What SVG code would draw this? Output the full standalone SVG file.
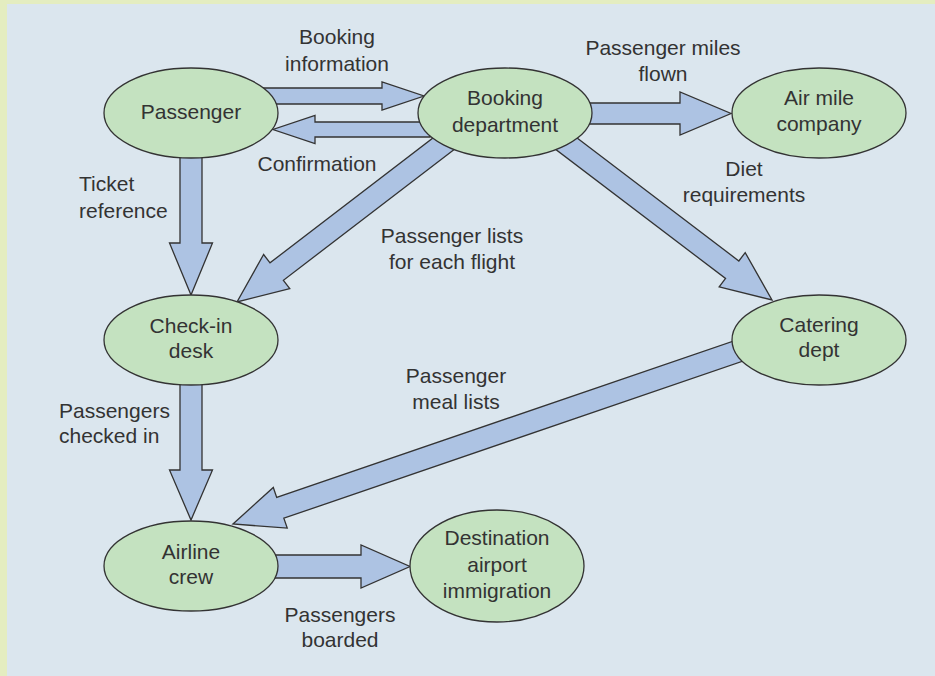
<svg xmlns="http://www.w3.org/2000/svg" width="935" height="676" viewBox="0 0 935 676">
  <style>
    .node ellipse { fill: #c4e2c0; stroke: #333333; stroke-width: 1.3; }
    .flow polygon { fill: #adc3e3; stroke: #333333; stroke-width: 1.3; stroke-linejoin: miter; }
    text { font-family: "Liberation Sans", Arial, sans-serif; font-size: 21px; fill: #333333; }
    .c { text-anchor: middle; }
    .l { text-anchor: start; }
  </style>

  <!-- page background with tinted top and left edges -->
  <rect x="0" y="0" width="935" height="676" fill="#e4edc0"/>
  <rect x="7" y="4" width="928" height="672" fill="#dbe6ee"/>

  <!-- data flows (drawn beneath the nodes) -->
  <g id="connectors" class="flow">
    <!-- Passenger -> Booking department -->
    <polygon transform="translate(260,96)" points="0,-8 122,-8 122,-14 164,0 122,14 122,8 0,8"/>
    <!-- Booking department -> Passenger -->
    <polygon transform="translate(430,129.5) rotate(180)" points="0,-7.5 115,-7.5 115,-14 157,0 115,14 115,7.5 0,7.5"/>
    <!-- Booking department -> Air mile company -->
    <polygon transform="translate(580,113.5)" points="0,-10.5 100,-10.5 100,-21.5 151,0 100,21.5 100,10.5 0,10.5"/>
    <!-- Passenger -> Check-in desk -->
    <polygon transform="translate(191,150) rotate(90)" points="0,-11 93,-11 93,-21.5 145,0 93,21.5 93,11 0,11"/>
    <!-- Check-in desk -> Airline crew -->
    <polygon transform="translate(191,378) rotate(90)" points="0,-11 92,-11 92,-21.5 142,0 92,21.5 92,11 0,11"/>
    <!-- Booking department -> Check-in desk -->
    <polygon transform="translate(455,135) rotate(142.55)" points="0,-11 224.6,-11 224.6,-21.5 274.6,0 224.6,21.5 224.6,11 0,11"/>
    <!-- Booking department -> Catering dept -->
    <polygon transform="translate(555,135) rotate(37.25)" points="0,-11 222.6,-11 222.6,-21.5 272.6,0 222.6,21.5 222.6,11 0,11"/>
    <!-- Catering dept -> Airline crew -->
    <polygon transform="translate(785,335) rotate(161.1)" points="0,-11 533.5,-11 533.5,-21.5 583.5,0 533.5,21.5 533.5,11 0,11"/>
    <!-- Airline crew -> Destination airport immigration -->
    <polygon transform="translate(270,566.5)" points="0,-11.5 91,-11.5 91,-21.5 140,0 91,21.5 91,11.5 0,11.5"/>
  </g>

  <!-- flow labels -->
  <g id="flow-labels">
    <text class="c" x="337" y="44">Booking</text>
    <text class="c" x="337" y="71">information</text>
    <text class="c" x="317" y="171">Confirmation</text>
    <text class="c" x="663" y="55">Passenger miles</text>
    <text class="c" x="663" y="81">flown</text>
    <text class="l" x="79" y="191">Ticket</text>
    <text class="l" x="79" y="218">reference</text>
    <text class="c" x="744" y="176">Diet</text>
    <text class="c" x="744" y="202">requirements</text>
    <text class="c" x="452" y="243">Passenger lists</text>
    <text class="c" x="452" y="269">for each flight</text>
    <text class="c" x="456" y="383">Passenger</text>
    <text class="c" x="456" y="409">meal lists</text>
    <text class="l" x="59" y="418">Passengers</text>
    <text class="l" x="59" y="443">checked in</text>
    <text class="c" x="340" y="622">Passengers</text>
    <text class="c" x="340" y="647">boarded</text>
  </g>

  <!-- nodes -->
  <g id="passenger" class="node">
    <ellipse cx="191" cy="113" rx="87" ry="45"/>
    <text class="c" x="191" y="119">Passenger</text>
  </g>
  <g id="booking-department" class="node">
    <ellipse cx="505" cy="113" rx="87" ry="45"/>
    <text class="c" x="505" y="105">Booking</text>
    <text class="c" x="505" y="132">department</text>
  </g>
  <g id="air-mile-company" class="node">
    <ellipse cx="819" cy="113" rx="87" ry="45"/>
    <text class="c" x="819" y="105">Air mile</text>
    <text class="c" x="819" y="131">company</text>
  </g>
  <g id="check-in-desk" class="node">
    <ellipse cx="191" cy="340" rx="87" ry="45"/>
    <text class="c" x="191" y="333">Check-in</text>
    <text class="c" x="191" y="358">desk</text>
  </g>
  <g id="catering-dept" class="node">
    <ellipse cx="819" cy="340" rx="87" ry="45"/>
    <text class="c" x="819" y="332">Catering</text>
    <text class="c" x="819" y="357">dept</text>
  </g>
  <g id="airline-crew" class="node">
    <ellipse cx="191" cy="566" rx="87" ry="45"/>
    <text class="c" x="191" y="559">Airline</text>
    <text class="c" x="191" y="584">crew</text>
  </g>
  <g id="destination-airport-immigration" class="node">
    <ellipse cx="497" cy="566" rx="87" ry="56"/>
    <text class="c" x="497" y="545">Destination</text>
    <text class="c" x="497" y="572">airport</text>
    <text class="c" x="497" y="598">immigration</text>
  </g>
</svg>
